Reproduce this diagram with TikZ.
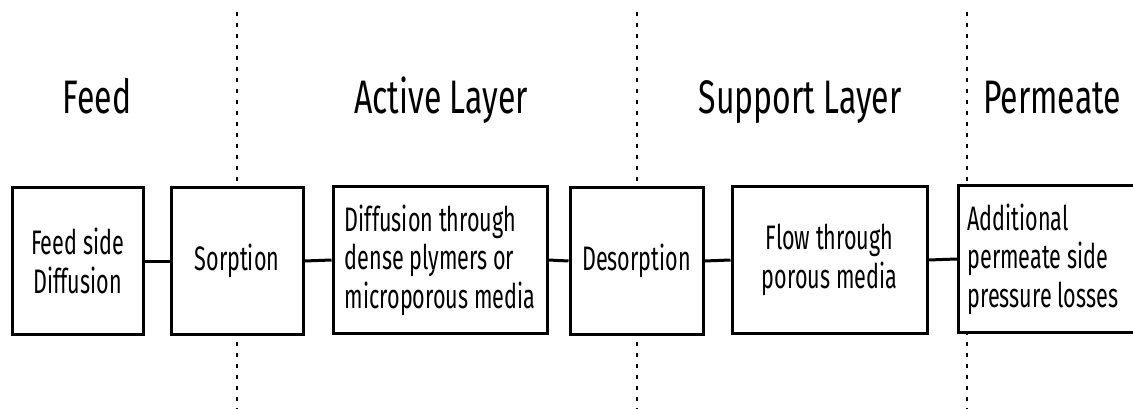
\documentclass[tikz,border=0pt]{standalone}
\usepackage{fontspec}
\newfontfamily\dinfont{Fira Sans}[FakeStretch=0.68]
\newfontfamily\dinboxfont{Fira Sans}[FakeStretch=0.635]
\begin{document}
\begin{tikzpicture}[x=1pt,y=-1pt,
  stage/.style={draw=black,line width=3pt,rectangle,inner sep=0pt,
    minimum height=146pt,font=\dinboxfont\fontsize{34}{38.5}\selectfont},
  heading/.style={anchor=base,inner sep=0pt,font=\dinfont\fontsize{47}{52}\selectfont},
  divider/.style={line width=2pt,dash pattern=on 4pt off 7pt},
  link/.style={line width=3pt}]
  \useasboundingbox (0,0) rectangle (1133,409);

  % layer boundaries
  \coordinate (d1t) at (237,12);  \coordinate (d1b) at (237,409);
  \coordinate (d2t) at (637,12);  \coordinate (d2b) at (637,409);
  \coordinate (d3t) at (967,12);  \coordinate (d3b) at (967,409);
  \draw[divider] (d1t) -- (d1b);
  \draw[divider] (d2t) -- (d2b);
  \draw[divider] (d3t) -- (d3b);

  % layer headings
  \node[heading] (hfeed) at (97,114) {Feed};
  \node[heading] (hactive) at (441,114) {Active Layer};
  \node[heading] (hsupport) at (800,114) {Support Layer};
  \node[heading] (hpermeate) at (1052,114) {Permeate};

  % transport steps
  \node[stage,minimum width=131pt,align=center,fill=white] (b1) at (77.5,261) {Feed side\\Diffusion};
  \node[stage,minimum width=132pt,fill=white] (b2) at (237,261) {Sorption};
  \node[stage,minimum width=214pt,align=flush left,fill=white] (b3) at (440,260)
    {Diffusion through\\dense plymers or\\microporous media};
  \node[stage,minimum width=133pt,fill=white] (b4) at (636.5,261) {Desorption};
  \node[stage,minimum width=195pt,align=center,fill=white] (b5) at (829.5,260)
    {Flow through\\porous media};
  \node[stage,anchor=west,text width=200pt,inner xsep=9pt,align=flush left,fill=white] (b6) at (957,259)
    {Additional\\permeate side\\pressure losses};

  % connections between steps
  \draw[link] (b1.east) -- (b2.west);
  \draw[link] (b2.east) -- (b3.west);
  \draw[link] (b3.east) -- (b4.west);
  \draw[link] (b4.east) -- (b5.west);
  \draw[link] (b5.east) -- (b6.west);
\end{tikzpicture}
\end{document}
